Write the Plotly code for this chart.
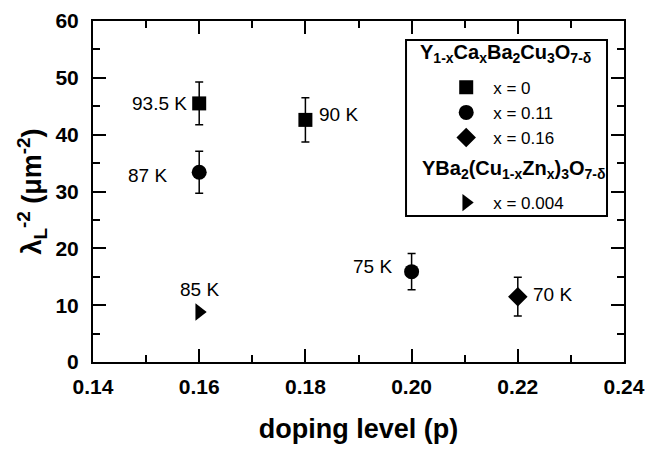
import plotly.graph_objects as go

# Penetration depth data, lambda_L^-2 vs hole doping
p_ca0 = [0.16, 0.18]
lam_ca0 = [45.5, 42.6]
err_ca0 = [3.75, 3.9]
tc_ca0 = ["93.5 K", "90 K"]

p_ca11 = [0.16, 0.20]
lam_ca11 = [33.4, 15.9]
err_ca11 = [3.7, 3.2]
tc_ca11 = ["87 K", "75 K"]

p_ca16 = [0.22]
lam_ca16 = [11.5]
err_ca16 = [3.4]
tc_ca16 = ["70 K"]

p_zn = [0.16]
lam_zn = [8.8]
tc_zn = ["85 K"]

names_ca = ["x = 0", "x = 0.11", "x = 0.16"]
names_zn = ["x = 0.004"]
title_ca = "Y<sub>1-x</sub>Ca<sub>x</sub>Ba<sub>2</sub>Cu<sub>3</sub>O<sub>7-δ</sub>"
title_zn = "YBa<sub>2</sub>(Cu<sub>1-x</sub>Zn<sub>x</sub>)<sub>3</sub>O<sub>7-δ</sub>"

FONT = "Liberation Sans"

def err(vals):
    return dict(type="data", array=vals, visible=True, color="black",
                thickness=1.5, width=4)

fig = go.Figure()
fig.add_trace(go.Scatter(x=p_ca0, y=lam_ca0, mode="markers", name=names_ca[0],
                         legendgroup="ca", error_y=err(err_ca0),
                         marker=dict(symbol="square", size=14, color="black")))
fig.add_trace(go.Scatter(x=p_ca11, y=lam_ca11, mode="markers", name=names_ca[1],
                         legendgroup="ca", error_y=err(err_ca11),
                         marker=dict(symbol="circle", size=15, color="black")))
fig.add_trace(go.Scatter(x=p_ca16, y=lam_ca16, mode="markers", name=names_ca[2],
                         legendgroup="ca", error_y=err(err_ca16),
                         marker=dict(symbol="diamond", size=15, color="black")))
fig.add_trace(go.Scatter(x=p_zn, y=lam_zn, mode="markers", name=names_zn[0],
                         legendgroup="zn",
                         marker=dict(symbol="triangle-right", size=15, color="black")))

# Tc labels next to each point: (x, y, text, anchor, xshift, yshift)
labels = [
    (p_ca0[0], lam_ca0[0], tc_ca0[0], "right", -10, 0),
    (p_ca0[1], lam_ca0[1], tc_ca0[1], "left", 12, 5),
    (p_ca11[0], lam_ca11[0], tc_ca11[0], "right", -30, -3),
    (p_ca11[1], lam_ca11[1], tc_ca11[1], "right", -18, 5),
    (p_ca16[0], lam_ca16[0], tc_ca16[0], "left", 13, 2),
    (p_zn[0], lam_zn[0], tc_zn[0], "center", 0, 22),
]
for x, y, t, anc, dx, dy in labels:
    fig.add_annotation(x=x, y=y, text=t, showarrow=False, xanchor=anc,
                       yanchor="middle", xshift=dx, yshift=dy,
                       font=dict(family=FONT, size=19, color="black"))

# Legend frame and group titles
fig.add_shape(type="rect", xref="paper", yref="paper", x0=0.5895, x1=0.968,
              y0=0.428, y1=0.944, line=dict(color="black", width=2),
              fillcolor="white", layer="above")
fig.add_annotation(xref="paper", yref="paper", x=0.777, y=0.905, text=title_ca,
                   showarrow=False, xanchor="center", yanchor="middle",
                   font=dict(family=FONT, size=20, color="black", weight="bold"))
fig.add_annotation(xref="paper", yref="paper", x=0.792, y=0.565, text=title_zn,
                   showarrow=False, xanchor="center", yanchor="middle",
                   font=dict(family=FONT, size=20, color="black", weight="bold"))

axis_common = dict(
    showline=True, linecolor="black", linewidth=2, mirror="ticks",
    ticks="inside", ticklen=13, tickwidth=2, tickcolor="black",
    showgrid=False, zeroline=False, automargin=False,
    tickfont=dict(family=FONT, size=21, color="black", weight="bold"),
)

fig.update_xaxes(range=[0.14, 0.24], dtick=0.02, tickformat=".2f",
                 minor=dict(dtick=0.01, ticks="inside", ticklen=7, tickwidth=2,
                            tickcolor="black"),
                 title=dict(text="doping level (p)", standoff=22,
                            font=dict(family=FONT, size=27, color="black",
                                      weight="bold")),
                 ticklabelstandoff=5,
                 **axis_common)
fig.update_yaxes(range=[0, 60], dtick=10,
                 minor=dict(dtick=5, ticks="inside", ticklen=7, tickwidth=2,
                            tickcolor="black"),
                 title=dict(text="λ<sub>L</sub><sup>-2</sup> (μm<sup>-2</sup>)",
                            standoff=6,
                            font=dict(family=FONT, size=27, color="black",
                                      weight="bold")),
                 ticklabelstandoff=8,
                 **axis_common)

fig.update_layout(
    width=648, height=450,
    margin=dict(l=93, r=24, t=21, b=88),
    plot_bgcolor="white", paper_bgcolor="white",
    showlegend=True,
    legend=dict(x=0.652, y=0.857, xanchor="left", yanchor="top",
                bgcolor="rgba(0,0,0,0)", borderwidth=0,
                itemwidth=44, tracegroupgap=40, traceorder="grouped",
                font=dict(family=FONT, size=17, color="black")),
)

fig.write_html("out.html")
